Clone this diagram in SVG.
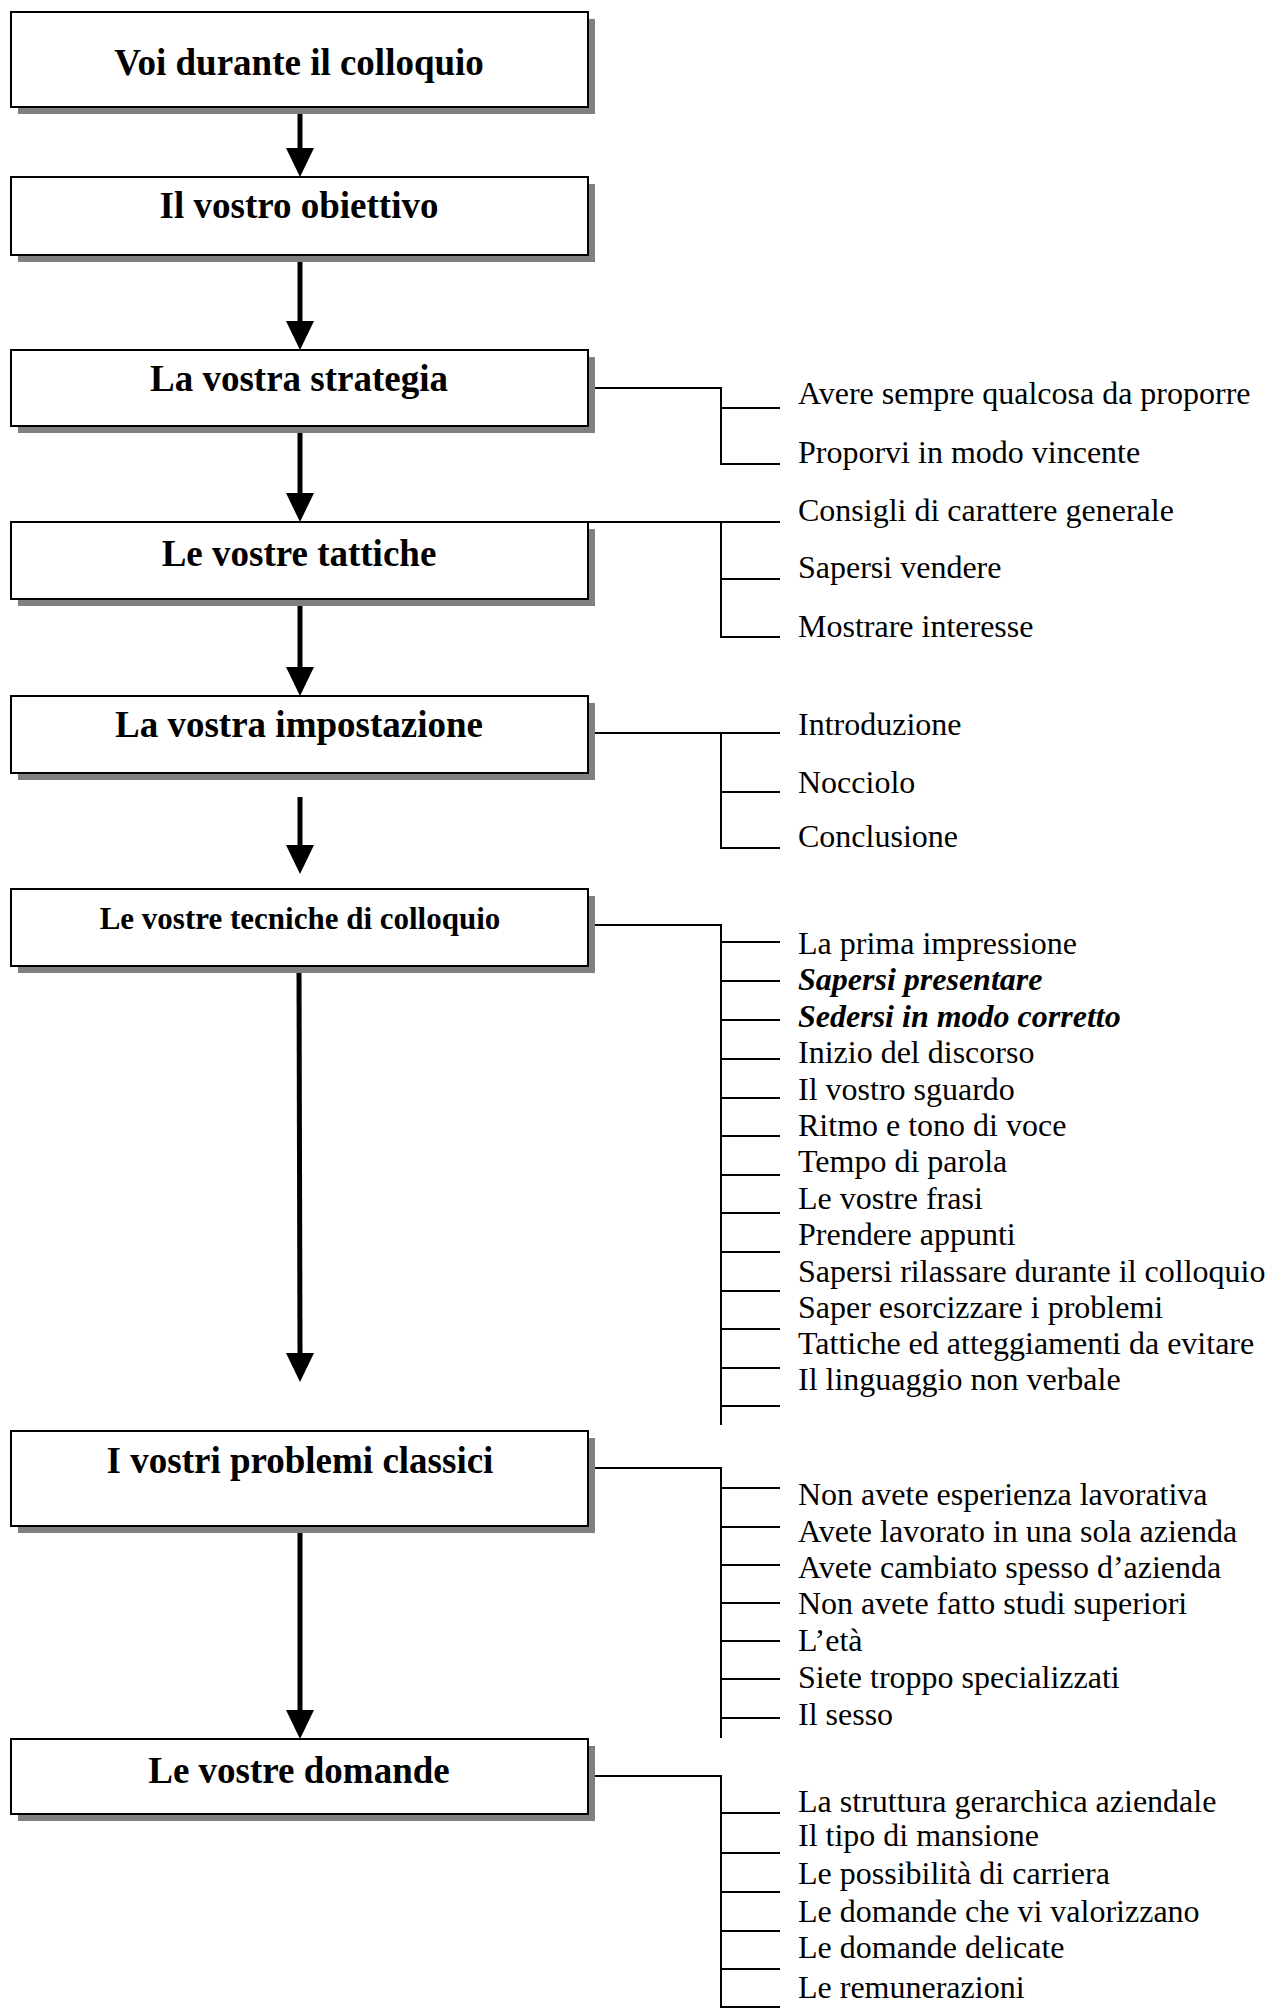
<svg xmlns="http://www.w3.org/2000/svg" width="1273" height="2011" viewBox="0 0 1273 2011">
<defs>
<style>
.shadow{fill:#808080;stroke:none}
.box{fill:#ffffff;stroke:#000000;stroke-width:2}
.title{font-family:"Liberation Serif","Times New Roman",serif;font-weight:bold;font-size:37px;fill:#000;text-anchor:middle}
.item{font-family:"Liberation Serif","Times New Roman",serif;font-size:32px;fill:#000}
.bi{font-weight:bold;font-style:italic}
.arrow{stroke:#000;stroke-width:5;fill:none}
.head{fill:#000;stroke:none}
.branch{stroke:#000;stroke-width:2;fill:none}
</style>
</defs>
<rect width="1273" height="2011" fill="#ffffff"/>

<g id="connectors">
  <!-- main arrows -->
  <line class="arrow" x1="300" y1="107" x2="300" y2="150"/>
  <polygon class="head" points="286,148 314,148 300,177"/>
  <line class="arrow" x1="300" y1="255" x2="300" y2="323"/>
  <polygon class="head" points="286,321 314,321 300,350"/>
  <line class="arrow" x1="300" y1="426" x2="300" y2="495"/>
  <polygon class="head" points="286,493 314,493 300,522"/>
  <line class="arrow" x1="300" y1="599" x2="300" y2="669"/>
  <polygon class="head" points="286,667 314,667 300,696"/>
  <line class="arrow" x1="300" y1="797" x2="300" y2="847"/>
  <polygon class="head" points="286,845 314,845 300,874"/>
  <line class="arrow" x1="299" y1="966" x2="300" y2="1355"/>
  <polygon class="head" points="286,1353 314,1353 300,1382"/>
  <line class="arrow" x1="300" y1="1526" x2="300" y2="1712"/>
  <polygon class="head" points="286,1710 314,1710 300,1739"/>

  <!-- strategia branch -->
  <path class="branch" d="M588,388 H721 V464 H780 M721,408 H780"/>
  <!-- tattiche branch -->
  <path class="branch" d="M588,522 H780 M721,522 V637 H780 M721,579 H780"/>
  <!-- impostazione branch -->
  <path class="branch" d="M588,733 H780 M721,733 V848 H780 M721,792 H780"/>
  <!-- tecniche branch -->
  <path class="branch" d="M588,925 H721 V1425 M721,942 H780 M721,981 H780 M721,1020 H780 M721,1059 H780 M721,1098 H780 M721,1136 H780 M721,1175 H780 M721,1213 H780 M721,1252 H780 M721,1291 H780 M721,1329 H780 M721,1368 H780 M721,1406 H780"/>
  <!-- problemi branch -->
  <path class="branch" d="M588,1468 H721 V1738 M721,1488 H780 M721,1527 H780 M721,1565 H780 M721,1603 H780 M721,1641 H780 M721,1679 H780 M721,1718 H780"/>
  <!-- domande branch -->
  <path class="branch" d="M588,1776 H721 V2007 H780 M721,1813 H780 M721,1853 H780 M721,1892 H780 M721,1931 H780 M721,1969 H780"/>
</g>

<g id="node-voi">
  <rect class="shadow" x="18" y="19" width="577" height="95"/>
  <rect class="box" x="11" y="12" width="577" height="95"/>
  <text class="title" x="299" y="75">Voi durante il colloquio</text>
</g>
<g id="node-obiettivo">
  <rect class="shadow" x="18" y="184" width="577" height="78"/>
  <rect class="box" x="11" y="177" width="577" height="78"/>
  <text class="title" x="299" y="218">Il vostro obiettivo</text>
</g>
<g id="node-strategia">
  <rect class="shadow" x="18" y="357" width="577" height="76"/>
  <rect class="box" x="11" y="350" width="577" height="76"/>
  <text class="title" x="299" y="391">La vostra strategia</text>
</g>
<g id="node-tattiche">
  <rect class="shadow" x="18" y="529" width="577" height="77"/>
  <rect class="box" x="11" y="522" width="577" height="77"/>
  <text class="title" x="299" y="566">Le vostre tattiche</text>
</g>
<g id="node-impostazione">
  <rect class="shadow" x="18" y="703" width="577" height="77"/>
  <rect class="box" x="11" y="696" width="577" height="77"/>
  <text class="title" x="299" y="737">La vostra impostazione</text>
</g>
<g id="node-tecniche">
  <rect class="shadow" x="18" y="896" width="577" height="77"/>
  <rect class="box" x="11" y="889" width="577" height="77"/>
  <text class="title" x="300" y="929" style="font-size:31px">Le vostre tecniche di colloquio</text>
</g>
<g id="node-problemi">
  <rect class="shadow" x="18" y="1438" width="577" height="95"/>
  <rect class="box" x="11" y="1431" width="577" height="95"/>
  <text class="title" x="300" y="1473">I vostri problemi classici</text>
</g>
<g id="node-domande">
  <rect class="shadow" x="18" y="1746" width="577" height="75"/>
  <rect class="box" x="11" y="1739" width="577" height="75"/>
  <text class="title" x="299" y="1783">Le vostre domande</text>
</g>

<g id="list-strategia">
  <text class="item" x="798" y="404">Avere sempre qualcosa da proporre</text>
  <text class="item" x="798" y="463">Proporvi in modo vincente</text>
</g>
<g id="list-tattiche">
  <text class="item" x="798" y="521">Consigli di carattere generale</text>
  <text class="item" x="798" y="578">Sapersi vendere</text>
  <text class="item" x="798" y="637">Mostrare interesse</text>
</g>
<g id="list-impostazione">
  <text class="item" x="798" y="735">Introduzione</text>
  <text class="item" x="798" y="793">Nocciolo</text>
  <text class="item" x="798" y="847">Conclusione</text>
</g>
<g id="list-tecniche">
  <text class="item" x="798" y="954">La prima impressione</text>
  <text class="item bi" x="798" y="990">Sapersi presentare</text>
  <text class="item bi" x="798" y="1027">Sedersi in modo corretto</text>
  <text class="item" x="798" y="1063">Inizio del discorso</text>
  <text class="item" x="798" y="1100">Il vostro sguardo</text>
  <text class="item" x="798" y="1136">Ritmo e tono di voce</text>
  <text class="item" x="798" y="1172">Tempo di parola</text>
  <text class="item" x="798" y="1209">Le vostre frasi</text>
  <text class="item" x="798" y="1245">Prendere appunti</text>
  <text class="item" x="798" y="1282">Sapersi rilassare durante il colloquio</text>
  <text class="item" x="798" y="1318">Saper esorcizzare i problemi</text>
  <text class="item" x="798" y="1354">Tattiche ed atteggiamenti da evitare</text>
  <text class="item" x="798" y="1390">Il linguaggio non verbale</text>
</g>
<g id="list-problemi">
  <text class="item" x="798" y="1505">Non avete esperienza lavorativa</text>
  <text class="item" x="798" y="1542">Avete lavorato in una sola azienda</text>
  <text class="item" x="798" y="1578">Avete cambiato spesso d’azienda</text>
  <text class="item" x="798" y="1614">Non avete fatto studi superiori</text>
  <text class="item" x="798" y="1651">L’età</text>
  <text class="item" x="798" y="1688">Siete troppo specializzati</text>
  <text class="item" x="798" y="1725">Il sesso</text>
</g>
<g id="list-domande">
  <text class="item" x="798" y="1812">La struttura gerarchica aziendale</text>
  <text class="item" x="798" y="1846">Il tipo di mansione</text>
  <text class="item" x="798" y="1884">Le possibilità di carriera</text>
  <text class="item" x="798" y="1922">Le domande che vi valorizzano</text>
  <text class="item" x="798" y="1958">Le domande delicate</text>
  <text class="item" x="798" y="1998">Le remunerazioni</text>
</g>
</svg>
